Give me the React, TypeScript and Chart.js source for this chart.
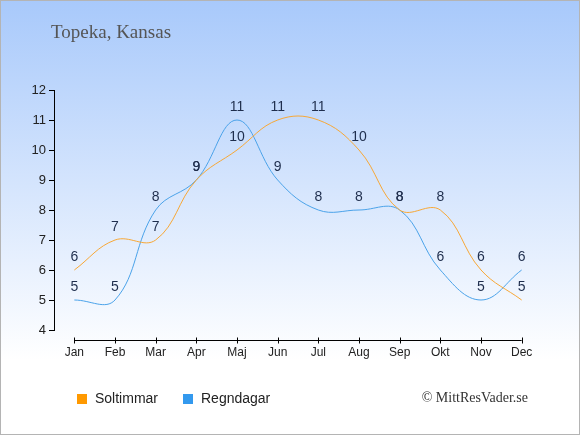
import { useEffect, useRef } from 'react';
import { Chart, registerables } from 'chart.js';
import type { Plugin } from 'chart.js';

Chart.register(...registerables);

const months = ['Jan', 'Feb', 'Mar', 'Apr', 'Maj', 'Jun', 'Jul', 'Aug', 'Sep', 'Okt', 'Nov', 'Dec'];
const sunHours = [6, 7, 7, 9, 10, 11, 11, 10, 8, 8, 6, 5];
const rainDays = [5, 5, 8, 9, 11, 9, 8, 8, 8, 6, 5, 6];
const yTicks = [4, 5, 6, 7, 8, 9, 10, 11, 12];

const SUN_LINE = '#f8a836';
const RAIN_LINE = '#4ba3ea';
const SUN_BOX = '#ff9900';
const RAIN_BOX = '#3399ee';

// background, title, legend, copyright, x axis line and value labels
const decor: Plugin<'line'> = {
  id: 'decor',
  beforeDraw(chart) {
    const { ctx, width, height } = chart;
    const g = ctx.createLinearGradient(0, 0, 0, 360);
    g.addColorStop(0, '#a8c9fb');
    g.addColorStop(1, '#ffffff');
    ctx.save();
    ctx.fillStyle = g;
    ctx.fillRect(0, 0, width, height);
    ctx.strokeStyle = '#b4b4b4';
    ctx.lineWidth = 1;
    ctx.strokeRect(0.5, 0.5, width - 1, height - 1);

    ctx.fillStyle = '#555555';
    ctx.font = '19px "Liberation Serif"';
    ctx.textBaseline = 'alphabetic';
    ctx.fillText('Topeka, Kansas', 51, 38);
    ctx.restore();
  },
  afterDraw(chart) {
    const { ctx } = chart;
    const x = chart.scales.x;
    const y = chart.scales.y;
    ctx.save();

    // x axis line below the chart area
    const ax = 340.5;
    ctx.strokeStyle = '#000';
    ctx.lineWidth = 1;
    ctx.beginPath();
    ctx.moveTo(x.getPixelForValue(0), ax);
    ctx.lineTo(x.getPixelForValue(months.length - 1), ax);
    months.forEach((_, i) => {
      const px = Math.round(x.getPixelForValue(i)) + 0.5;
      ctx.moveTo(px, ax - 3);
      ctx.lineTo(px, ax + 3);
    });
    ctx.stroke();

    // value labels
    ctx.font = '14px "Liberation Sans", Arial, sans-serif';
    ctx.fillStyle = '#1f2e4d';
    ctx.textAlign = 'center';
    ctx.textBaseline = 'middle';
    chart.data.datasets.forEach((ds) => {
      (ds.data as number[]).forEach((v, i) => {
        ctx.fillText(String(v), x.getPixelForValue(i), y.getPixelForValue(v) - 13);
      });
    });

    // legend
    ctx.font = '14px "Liberation Sans", Arial, sans-serif';
    ctx.textAlign = 'left';
    ctx.textBaseline = 'middle';
    const items = [
      { label: 'Soltimmar', color: SUN_BOX, x: 77 },
      { label: 'Regndagar', color: RAIN_BOX, x: 183 },
    ];
    items.forEach((it) => {
      ctx.fillStyle = it.color;
      ctx.fillRect(it.x, 394, 10, 10);
      ctx.fillStyle = '#222';
      ctx.fillText(it.label, it.x + 18, 399);
    });

    ctx.font = '14px "Liberation Serif"';
    ctx.fillStyle = '#333';
    ctx.textAlign = 'right';
    ctx.fillText('\u00a9 MittResVader.se', 528, 398);
    ctx.restore();
  },
};

export default function App() {
  const chartRef = useRef<HTMLCanvasElement>(null);
  const chartInstance = useRef<Chart<'line'> | null>(null);

  useEffect(() => {
    document.body.style.margin = '0';
    if (!chartRef.current) return;
    if (chartInstance.current) chartInstance.current.destroy();
    const ctx = chartRef.current.getContext('2d');
    if (!ctx) return;

    chartInstance.current = new Chart(ctx, {
      type: 'line',
      data: {
        labels: months,
        datasets: [
          {
            label: 'Soltimmar',
            data: sunHours,
            borderColor: SUN_LINE,
            borderWidth: 1,
            pointRadius: 0,
            tension: 0.4,
            fill: false,
          },
          {
            label: 'Regndagar',
            data: rainDays,
            borderColor: RAIN_LINE,
            borderWidth: 1,
            pointRadius: 0,
            tension: 0.4,
            fill: false,
          },
        ],
      },
      options: {
        responsive: false,
        animation: false,
        devicePixelRatio: 1,
        clip: false,
        layout: { autoPadding: false, padding: { left: 0, top: 90, right: 38, bottom: 0 } },
        plugins: {
          legend: { display: false },
          title: { display: false },
          tooltip: { enabled: false },
        },
        scales: {
          x: {
            offset: true,
            grid: { display: false, drawTicks: false },
            border: { display: false },
            ticks: {
              color: '#222',
              padding: 15,
              maxRotation: 0,
              font: { family: '"Liberation Sans", Arial, sans-serif', size: 12 },
            },
            afterFit(scale) {
              scale.height = 105;
            },
          },
          y: {
            min: 4,
            max: 12,
            afterBuildTicks(scale) {
              scale.ticks = yTicks.map((v) => ({ value: v }));
            },
            grid: { drawOnChartArea: false, drawTicks: true, tickLength: 5, color: '#000' },
            border: { display: true, color: '#000', width: 1 },
            ticks: {
              color: '#222',
              padding: 3,
              font: { family: '"Liberation Sans", Arial, sans-serif', size: 13 },
            },
            afterFit(scale) {
              scale.width = 54;
            },
          },
        },
      },
      plugins: [decor],
    });

    return () => {
      if (chartInstance.current) {
        chartInstance.current.destroy();
        chartInstance.current = null;
      }
    };
  }, []);

  return (
    <div style={{ width: 580, height: 435 }}>
      <canvas ref={chartRef} width={580} height={435} />
    </div>
  );
}
